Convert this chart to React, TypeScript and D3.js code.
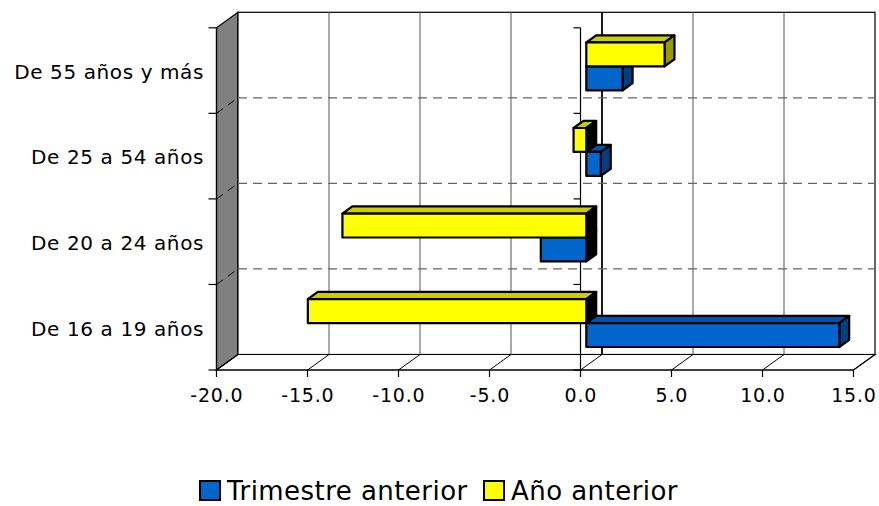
import { useEffect, useRef } from "react";
import * as d3 from "d3";

// Categories, top to bottom
const categories = ["De 55 años y más", "De 25 a 54 años", "De 20 a 24 años", "De 16 a 19 años"];
// Series as they stack inside one category band (yellow above blue)
const bandOrder = ["Año anterior", "Trimestre anterior"];
// Legend order
const legendOrder = ["Trimestre anterior", "Año anterior"];
const trimestreAnterior = [2.0, 0.8, -2.5, 13.9];
const anoAnterior = [4.3, -0.7, -13.4, -15.3];
const xTicks = [-20, -15, -10, -5, 0, 5, 10, 15];

const WIDTH = 879;
const HEIGHT = 506;
// back wall of the 3-D box, and the shift from back plane to front plane
const back = { left: 238, right: 875, top: 12.3, bottom: 354.5 };
const DX = -21.5;
const DY = 15.5;
// depth of the bars (0 = back wall, 1 = front)
const BAR_FRONT = 0.73;
const BAR_BACK = 0.27;

const FONT = "'DejaVu Sans', Verdana, sans-serif";

const palette: Record<string, { front: string; top: string; side: string }> = {
  "Trimestre anterior": { front: "#0066cc", top: "#0054aa", side: "#003f80" },
  "Año anterior": { front: "#ffff00", top: "#cccc00", side: "#999900" },
};

export default function App() {
  const svgRef = useRef<SVGSVGElement>(null);

  useEffect(() => {
    if (!svgRef.current) return;
    const svg = d3.select(svgRef.current);
    svg.selectAll("*").remove();

    const values: Record<string, number[]> = {
      "Trimestre anterior": trimestreAnterior,
      "Año anterior": anoAnterior,
    };

    const x = d3.scaleLinear().domain([-20, 15]).range([back.left, back.right]);
    const y = d3.scaleBand<string>().domain(categories).range([back.top, back.bottom]);
    const inner = d3
      .scaleBand<string>()
      .domain(bandOrder)
      .range([0, y.bandwidth()])
      .paddingInner(0)
      .paddingOuter(0.786);

    // project a back-plane point to depth f
    const p = (px: number, py: number, f: number): [number, number] => [px + f * DX, py + f * DY];
    const poly = (pts: [number, number][]) => "M" + pts.map((d) => d.join(",")).join("L") + "Z";

    const g = svg.append("g");

    // left wall
    g.append("path")
      .attr("d", poly([p(back.left, back.top, 0), p(back.left, back.top, 1), p(back.left, back.bottom, 1), p(back.left, back.bottom, 0)]))
      .attr("fill", "#808080")
      .attr("stroke", "#000")
      .attr("stroke-width", 1.2);

    // back wall
    g.append("rect")
      .attr("x", back.left)
      .attr("y", back.top)
      .attr("width", back.right - back.left)
      .attr("height", back.bottom - back.top)
      .attr("fill", "#fff")
      .attr("stroke", "#000")
      .attr("stroke-width", 1.2);

    // floor
    g.append("path")
      .attr("d", poly([p(back.left, back.bottom, 0), p(back.right, back.bottom, 0), p(back.right, back.bottom, 1), p(back.left, back.bottom, 1)]))
      .attr("fill", "#fff")
      .attr("stroke", "#000")
      .attr("stroke-width", 1.2);

    // vertical gridlines on the back wall
    g.selectAll("line.vgrid")
      .data(xTicks.filter((t) => t > -20 && t < 15))
      .join("line")
      .attr("class", "vgrid")
      .attr("x1", (d) => x(d))
      .attr("x2", (d) => x(d))
      .attr("y1", back.top)
      .attr("y2", back.bottom)
      .attr("stroke", (d) => (d === 0 ? "#000" : "#555"))
      .attr("stroke-width", (d) => (d === 0 ? 1.8 : 1));

    // floor diagonals
    g.selectAll("line.fgrid")
      .data(xTicks)
      .join("line")
      .attr("class", "fgrid")
      .attr("x1", (d) => p(x(d), back.bottom, 0)[0])
      .attr("y1", (d) => p(x(d), back.bottom, 0)[1])
      .attr("x2", (d) => p(x(d), back.bottom, 1)[0])
      .attr("y2", (d) => p(x(d), back.bottom, 1)[1])
      .attr("stroke", "#000")
      .attr("stroke-width", 1);

    // dashed category gridlines (back wall + left wall)
    const bounds = categories.slice(1).map((c) => y(c)!);
    bounds.forEach((by) => {
      g.append("line")
        .attr("x1", back.left)
        .attr("x2", back.right)
        .attr("y1", by)
        .attr("y2", by)
        .attr("stroke", "#666")
        .attr("stroke-width", 1.3)
        .attr("stroke-dasharray", "9,6");
      const a = p(back.left, by, 0);
      const b = p(back.left, by, 1);
      g.append("line")
        .attr("x1", b[0])
        .attr("y1", b[1])
        .attr("x2", a[0])
        .attr("y2", a[1])
        .attr("stroke", "#000")
        .attr("stroke-width", 1)
        .attr("stroke-dasharray", "8,6");
    });

    // category axis lines (left front edge and at zero) with ticks
    const allBounds = [back.top, ...bounds, back.bottom];
    [back.left, x(0)].forEach((ax, i) => {
      const top = p(ax, back.top, 1);
      const bot = p(ax, back.bottom, 1);
      g.append("line")
        .attr("x1", top[0])
        .attr("x2", bot[0])
        .attr("y1", top[1])
        .attr("y2", bot[1])
        .attr("stroke", "#000")
        .attr("stroke-width", 1.2);
      allBounds.forEach((by) => {
        const q = p(ax, by, 1);
        g.append("line")
          .attr("x1", q[0] - (i === 0 ? 8 : 7))
          .attr("x2", q[0])
          .attr("y1", q[1])
          .attr("y2", q[1])
          .attr("stroke", "#000")
          .attr("stroke-width", 1.2);
      });
    });

    // value axis on the front edge of the floor
    const fl = p(back.left, back.bottom, 1);
    const fr = p(back.right, back.bottom, 1);
    g.append("line")
      .attr("x1", fl[0])
      .attr("x2", fr[0])
      .attr("y1", fl[1])
      .attr("y2", fr[1])
      .attr("stroke", "#000")
      .attr("stroke-width", 1.2);
    const tickG = g.selectAll("g.xtick").data(xTicks).join("g").attr("class", "xtick");
    tickG
      .append("line")
      .attr("x1", (d) => p(x(d), back.bottom, 1)[0])
      .attr("x2", (d) => p(x(d), back.bottom, 1)[0])
      .attr("y1", fl[1])
      .attr("y2", fl[1] + 7)
      .attr("stroke", "#000")
      .attr("stroke-width", 1.2);
    tickG
      .append("text")
      .attr("x", (d) => p(x(d), back.bottom, 1)[0] + 0.4)
      .attr("y", 402)
      .attr("text-anchor", "middle")
      .style("font-family", FONT)
      .style("font-size", "19px")
      .style("letter-spacing", "0.8px")
      .style("fill", "#000")
      .text((d) => d.toFixed(1)); // plain hyphen, as in the original

    // bars, top category first; within a category blue first so yellow covers it
    const drawOrder = ["Trimestre anterior", "Año anterior"];
    categories.forEach((cat, ci) => {
      drawOrder.forEach((s) => {
        const v = values[s][ci];
        const col = palette[s];
        const xa = Math.min(x(0), x(v));
        const xb = Math.max(x(0), x(v));
        const y0 = y(cat)! + inner(s)!;
        const y1 = y0 + inner.bandwidth();
        const bar = g.append("g").attr("stroke", "#000").attr("stroke-width", 2.2).attr("stroke-linejoin", "round");
        bar.append("path")
          .attr("d", poly([p(xa, y0, BAR_FRONT), p(xb, y0, BAR_FRONT), p(xb, y0, BAR_BACK), p(xa, y0, BAR_BACK)]))
          .attr("fill", col.top);
        bar.append("path")
          .attr("d", poly([p(xb, y0, BAR_FRONT), p(xb, y0, BAR_BACK), p(xb, y1, BAR_BACK), p(xb, y1, BAR_FRONT)]))
          .attr("fill", v > 0 ? col.side : "#000");
        bar.append("path")
          .attr("d", poly([p(xa, y0, BAR_FRONT), p(xb, y0, BAR_FRONT), p(xb, y1, BAR_FRONT), p(xa, y1, BAR_FRONT)]))
          .attr("fill", col.front);
      });
    });

    // category labels
    g.selectAll("text.cat")
      .data(categories)
      .join("text")
      .attr("class", "cat")
      .attr("x", 204)
      .attr("y", (d) => p(0, y(d)! + y.bandwidth() / 2, 1)[1] + 8.3)
      .attr("text-anchor", "end")
      .style("font-family", FONT)
      .style("font-size", "20px")
      .style("letter-spacing", "0.6px")
      .style("fill", "#000")
      .text((d) => d);

    // legend
    const legendX = [200, 484];
    const leg = g.selectAll("g.legend").data(legendOrder).join("g").attr("class", "legend");
    leg.append("rect")
      .attr("x", (_, i) => legendX[i])
      .attr("y", 481)
      .attr("width", 20)
      .attr("height", 19)
      .attr("fill", (d) => palette[d].front)
      .attr("stroke", "#000")
      .attr("stroke-width", 2);
    leg.append("text")
      .attr("x", (_, i) => legendX[i] + 27)
      .attr("y", 499.5)
      .style("font-family", FONT)
      .style("font-size", "26px")
      .style("letter-spacing", "0.45px")
      .style("fill", "#000")
      .text((d) => d);
  }, []);

  return (
    <svg
      ref={svgRef}
      width={WIDTH}
      height={HEIGHT}
      style={{ position: "absolute", left: 0, top: 0, background: "#fff" }}
    />
  );
}
